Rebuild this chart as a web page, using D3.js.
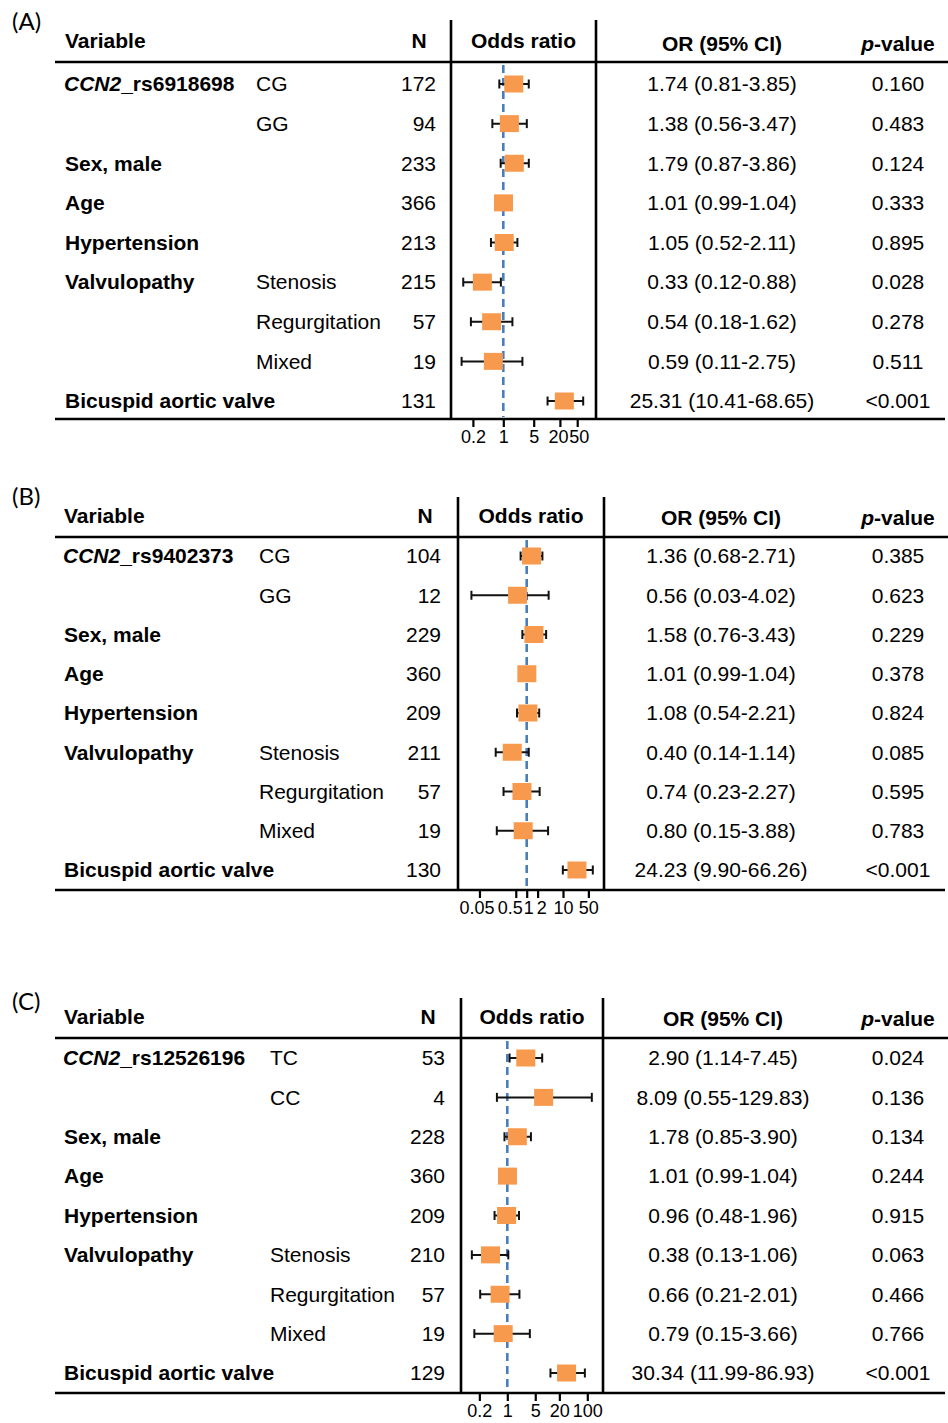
<!DOCTYPE html>
<html>
<head>
<meta charset="utf-8">
<script src="https://cdn.jsdelivr.net/npm/d3@7/dist/d3.min.js"></script>
<style>
  html, body { margin: 0; padding: 0; background: #fff; }
  svg { display: block; }
  text { font-family: "Liberation Sans", Arial, Helvetica, sans-serif; fill: #000; }
</style>
</head>
<body>
<script>
// ---------------- DATA ----------------
const panelLetters = ["(A)", "(B)", "(C)"];
const geneName = "CCN2";
const snpNames = ["_rs6918698", "_rs9402373", "_rs12526196"];
const variables = ["SNP", "", "Sex, male", "Age", "Hypertension", "Valvulopathy", "", "", "Bicuspid aortic valve"];

const subgroupsA = ["CG", "GG", "", "", "", "Stenosis", "Regurgitation", "Mixed", ""];
const subgroupsB = ["CG", "GG", "", "", "", "Stenosis", "Regurgitation", "Mixed", ""];
const subgroupsC = ["TC", "CC", "", "", "", "Stenosis", "Regurgitation", "Mixed", ""];

const nA = [172, 94, 233, 366, 213, 215, 57, 19, 131];
const nB = [104, 12, 229, 360, 209, 211, 57, 19, 130];
const nC = [53, 4, 228, 360, 209, 210, 57, 19, 129];

const orA = [1.74, 1.38, 1.79, 1.01, 1.05, 0.33, 0.54, 0.59, 25.31];
const loA = [0.81, 0.56, 0.87, 0.99, 0.52, 0.12, 0.18, 0.11, 10.41];
const hiA = [3.85, 3.47, 3.86, 1.04, 2.11, 0.88, 1.62, 2.75, 68.65];
const pA  = ["0.160", "0.483", "0.124", "0.333", "0.895", "0.028", "0.278", "0.511", "<0.001"];

const orB = [1.36, 0.56, 1.58, 1.01, 1.08, 0.40, 0.74, 0.80, 24.23];
const loB = [0.68, 0.03, 0.76, 0.99, 0.54, 0.14, 0.23, 0.15, 9.90];
const hiB = [2.71, 4.02, 3.43, 1.04, 2.21, 1.14, 2.27, 3.88, 66.26];
const pB  = ["0.385", "0.623", "0.229", "0.378", "0.824", "0.085", "0.595", "0.783", "<0.001"];

const orC = [2.90, 8.09, 1.78, 1.01, 0.96, 0.38, 0.66, 0.79, 30.34];
const loC = [1.14, 0.55, 0.85, 0.99, 0.48, 0.13, 0.21, 0.15, 11.99];
const hiC = [7.45, 129.83, 3.90, 1.04, 1.96, 1.06, 2.01, 3.66, 86.93];
const pC  = ["0.024", "0.136", "0.134", "0.244", "0.915", "0.063", "0.466", "0.766", "<0.001"];

const ticksA = [0.2, 1, 5, 20, 50];
const ticksB = [0.05, 0.5, 1, 2, 10, 50];
const ticksC = [0.2, 1, 5, 20, 100];

// ---------------- LAYOUT ----------------
const W = 948, H = 1423;
const layouts = [
  { top: 20,  labelY: 22,   headY: 41,   headY2: 44,   lineY: 62,   row0: 84,   row8: 401,  bottom: 419,
    varX: 65, subX: 256, nRight: 436, nHead: 419, boxL: 451, boxR: 596, orX: 722, pX: 898,
    one: 503.3, dec: 43.5, dom: [0.1, 100], nudge: { 20: -2, 50: 1.5 } },
  { top: 497, labelY: 497,  headY: 516,  headY2: 518,  lineY: 537,  row0: 556,  row8: 870,  bottom: 890,
    varX: 64, subX: 259, nRight: 441, nHead: 425, boxL: 458, boxR: 604, orX: 721, pX: 898,
    one: 526.7, dec: 36.3, dom: [0.01, 100], nudge: { 0.05: -3, 0.5: -6, 1: 1.5, 2: 3.5 } },
  { top: 998, labelY: 1002, headY: 1017, headY2: 1019, lineY: 1038, row0: 1058, row8: 1373, bottom: 1393,
    varX: 64, subX: 270, nRight: 445, nHead: 428, boxL: 461, boxR: 603, orX: 723, pX: 898,
    one: 507.3, dec: 40, dom: [0.1, 100], nudge: {} }
];

const panels = [
  { sub: subgroupsA, n: nA, or: orA, lo: loA, hi: hiA, p: pA, ticks: ticksA },
  { sub: subgroupsB, n: nB, or: orB, lo: loB, hi: hiB, p: pB, ticks: ticksB },
  { sub: subgroupsC, n: nC, or: orC, lo: loC, hi: hiC, p: pC, ticks: ticksC }
];

const FS = 21;
const orange = "#F79A4E";
const blue = "#4A7EBB";
const LW = 2.6;

const svg = d3.select("body").append("svg").attr("width", W).attr("height", H);

panels.forEach((P, k) => {
  const L = layouts[k];
  const g = svg.append("g");
  const rows = d3.range(variables.length);
  const y = d3.scalePoint().domain(rows).range([L.row0, L.row8]);
  const x = d3.scaleLog().domain(L.dom)
    .range([L.one + Math.log10(L.dom[0]) * L.dec, L.one + Math.log10(L.dom[1]) * L.dec]);

  // panel letter
  g.append("text").attr("x", 12).attr("y", L.labelY).attr("dy", "0.35em")
    .style("font-family", "Lato, 'Open Sans', sans-serif").style("font-size", "24px")
    .text(panelLetters[k]);

  // headers
  g.append("text").attr("x", L.varX).attr("y", L.headY).attr("dy", "0.35em")
    .style("font-size", FS + "px").style("font-weight", "bold").text("Variable");
  g.append("text").attr("x", L.nHead).attr("y", L.headY).attr("dy", "0.35em")
    .attr("text-anchor", "middle").style("font-size", FS + "px").style("font-weight", "bold").text("N");
  g.append("text").attr("x", (L.boxL + L.boxR) / 2).attr("y", L.headY).attr("dy", "0.35em")
    .attr("text-anchor", "middle").style("font-size", FS + "px").style("font-weight", "bold").text("Odds ratio");
  g.append("text").attr("x", L.orX).attr("y", L.headY2).attr("dy", "0.35em")
    .attr("text-anchor", "middle").style("font-size", FS + "px").style("font-weight", "bold").text("OR (95% CI)");
  const ph = g.append("text").attr("x", L.pX).attr("y", L.headY2).attr("dy", "0.35em")
    .attr("text-anchor", "middle").style("font-size", FS + "px").style("font-weight", "bold");
  ph.append("tspan").style("font-style", "italic").text("p");
  ph.append("tspan").text("-value");

  // lines
  g.append("line").attr("x1", 55).attr("x2", W).attr("y1", L.lineY).attr("y2", L.lineY)
    .attr("stroke", "#000").attr("stroke-width", LW);
  g.append("line").attr("x1", 55).attr("x2", 945).attr("y1", L.bottom).attr("y2", L.bottom)
    .attr("stroke", "#000").attr("stroke-width", LW);
  [L.boxL, L.boxR].forEach(xx => {
    g.append("line").attr("x1", xx).attr("x2", xx).attr("y1", L.top).attr("y2", L.bottom)
      .attr("stroke", "#000").attr("stroke-width", LW);
  });

  // reference line at OR = 1
  g.append("line").attr("x1", x(1)).attr("x2", x(1)).attr("y1", L.lineY + 3).attr("y2", L.bottom - 2)
    .attr("stroke", blue).attr("stroke-width", 2.6).attr("stroke-dasharray", "8,5");

  // variable labels
  rows.forEach(i => {
    const v = variables[i];
    if (!v) return;
    const t = g.append("text").attr("x", L.varX).attr("y", y(i)).attr("dy", "0.35em")
      .style("font-size", FS + "px").style("font-weight", "bold");
    if (v === "SNP") {
      t.attr("x", L.varX - 1);
      t.append("tspan").style("font-style", "italic").text(geneName);
      t.append("tspan").text(snpNames[k]);
    } else {
      t.text(v);
    }
  });

  // subgroups
  g.selectAll(".sub").data(rows.filter(i => P.sub[i])).enter().append("text")
    .attr("x", L.subX).attr("y", i => y(i)).attr("dy", "0.35em")
    .style("font-size", FS + "px").text(i => P.sub[i]);

  // N
  g.selectAll(".n").data(rows).enter().append("text")
    .attr("x", L.nRight).attr("y", i => y(i)).attr("dy", "0.35em").attr("text-anchor", "end")
    .style("font-size", FS + "px").text(i => P.n[i]);

  // OR text
  g.selectAll(".or").data(rows).enter().append("text")
    .attr("x", L.orX).attr("y", i => y(i)).attr("dy", "0.35em").attr("text-anchor", "middle")
    .style("font-size", FS + "px")
    .text(i => `${P.or[i].toFixed(2)} (${P.lo[i].toFixed(2)}-${P.hi[i].toFixed(2)})`);

  // p text
  g.selectAll(".p").data(rows).enter().append("text")
    .attr("x", L.pX).attr("y", i => y(i)).attr("dy", "0.35em").attr("text-anchor", "middle")
    .style("font-size", FS + "px").text(i => P.p[i]);

  // CI whiskers
  const ci = g.selectAll(".ci").data(rows).enter().append("g");
  ci.append("line").attr("x1", i => x(P.lo[i])).attr("x2", i => x(P.hi[i]))
    .attr("y1", i => y(i)).attr("y2", i => y(i)).attr("stroke", "#111").attr("stroke-width", 2);
  ci.append("line").attr("x1", i => x(P.lo[i])).attr("x2", i => x(P.lo[i]))
    .attr("y1", i => y(i) - 4.5).attr("y2", i => y(i) + 4.5).attr("stroke", "#111").attr("stroke-width", 2);
  ci.append("line").attr("x1", i => x(P.hi[i])).attr("x2", i => x(P.hi[i]))
    .attr("y1", i => y(i) - 4.5).attr("y2", i => y(i) + 4.5).attr("stroke", "#111").attr("stroke-width", 2);

  // boxes
  const bw = 19, bh = 17;
  g.selectAll(".box").data(rows).enter().append("rect")
    .attr("x", i => x(P.or[i]) - bw / 2).attr("y", i => y(i) - bh / 2)
    .attr("width", bw).attr("height", bh).attr("fill", orange);

  // axis
  const axis = d3.axisBottom(x).tickValues(P.ticks).tickSize(8).tickPadding(3)
    .tickFormat(d => String(d));
  const ax = g.append("g").attr("transform", `translate(0,${L.bottom})`).call(axis);
  ax.select(".domain").remove();
  ax.selectAll(".tick line").attr("stroke", "#000").attr("stroke-width", 2.2);
  ax.selectAll(".tick text").style("font-size", "18px")
    .style("font-family", "'Liberation Sans', Arial, sans-serif")
    .attr("fill", "#000")
    .attr("dx", d => (L.nudge[d] || 0));
});
</script>
</body>
</html>
